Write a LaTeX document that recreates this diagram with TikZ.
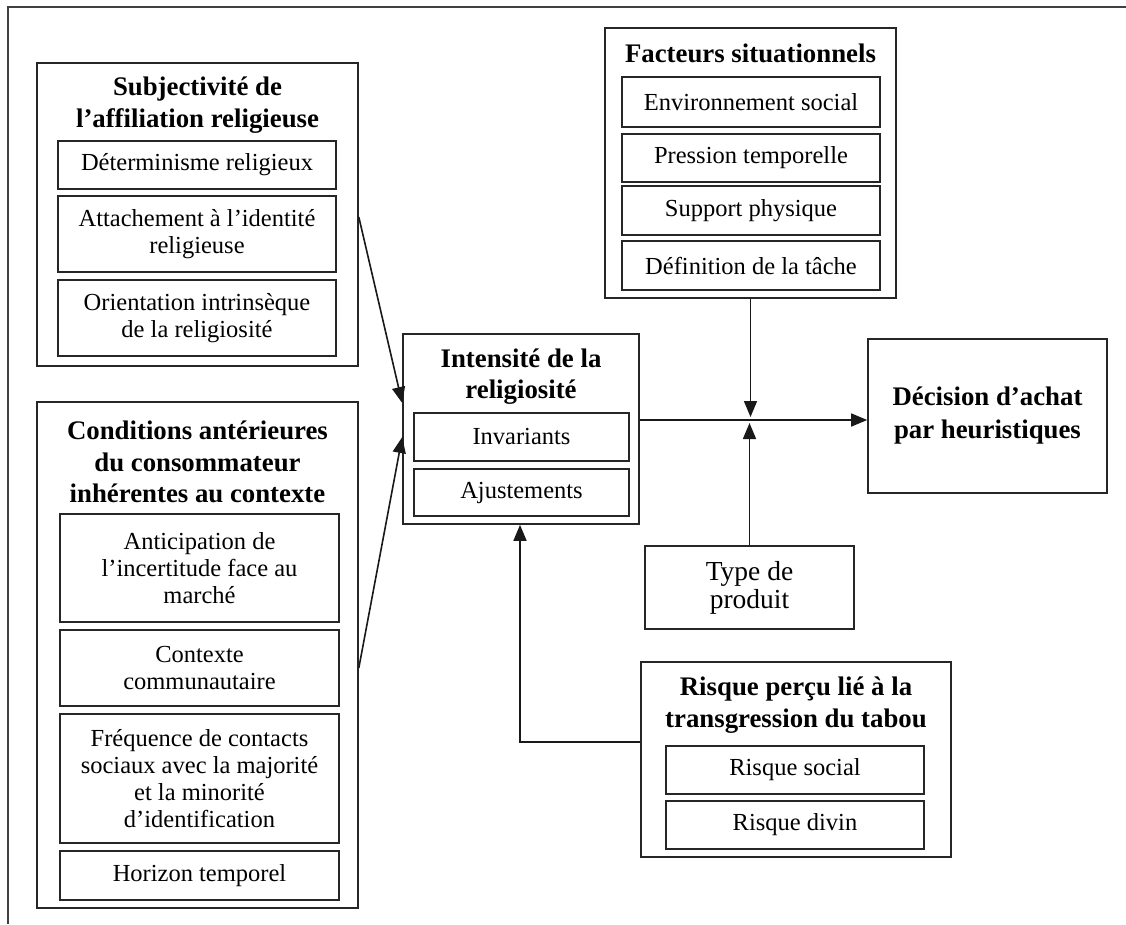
\documentclass[tikz,border=0pt]{standalone}
\usepackage{fontspec}
\setmainfont{Liberation Serif}
\usetikzlibrary{arrows.meta,calc}
\begin{document}
\begin{tikzpicture}[x=1pt,y=-1pt,
  box/.style={draw=black!85, line width=1.6pt, rectangle, inner sep=0pt, align=center, font=\fontsize{24.5}{27}\selectfont},
  ttl/.style={align=center, inner sep=0pt, font=\fontsize{26.8}{31.5}\selectfont\bfseries},
  arr/.style={draw=black!90, line width=1.6pt, -{Triangle[length=16pt,width=13pt]}}]
\useasboundingbox (0,0) rectangle (1126,924);
\draw[black!75, line width=1.6pt] (8,924) -- (8,7) -- (1126,7);

% Subjectivite
\node[box, minimum width=321, minimum height=303] (b1) at (197.5,214.5) {};
\node[ttl] (t1) at (197.5,105) {Subjectivité de\\l’affiliation religieuse};
\node[box, minimum width=278, minimum height=48] (det) at (197,165) {Déterminisme religieux};
\node[box, minimum width=278, minimum height=76] (att) at (197,234) {Attachement à l’identité\\religieuse};
\node[box, minimum width=278, minimum height=76] (ori) at (197,318) {Orientation intrinsèque\\de la religiosité};

% Conditions
\node[box, minimum width=321, minimum height=506] (b2) at (197.5,655) {};
\node[ttl] (t2) at (197.5,462) {Conditions antérieures\\du consommateur\\inhérentes au contexte};
\node[box, minimum width=279, minimum height=108] (ant) at (199.5,568) {Anticipation de\\l’incertitude face au\\marché};
\node[box, minimum width=279, minimum height=76] (com) at (199.5,668) {Contexte\\communautaire};
\node[box, minimum width=279, minimum height=129] (fre) at (199.5,778.5) {Fréquence de contacts\\sociaux avec la majorité\\et la minorité\\d’identification};
\node[box, minimum width=279, minimum height=49] (hor) at (199.5,875.5) {Horizon temporel};

% Intensite
\node[box, minimum width=236, minimum height=190] (cen) at (521,429) {};
\node[ttl] (t3) at (521,376.5) {Intensité de la\\religiosité};
\node[box, minimum width=215, minimum height=48] (inv) at (521.5,437) {Invariants};
\node[box, minimum width=215, minimum height=47] (aju) at (521.5,492.5) {Ajustements};

% Facteurs
\node[box, minimum width=291, minimum height=270] (fac) at (750.5,163) {};
\node[ttl] (t4) at (750.5,53) {Facteurs situationnels};
\node[box, minimum width=258, minimum height=50] (env) at (751,102) {Environnement social};
\node[box, minimum width=258, minimum height=48] (pre) at (751,158) {Pression temporelle};
\node[box, minimum width=258, minimum height=49] (sup) at (751,210.5) {Support physique};
\node[box, minimum width=258, minimum height=49] (def) at (751,265.5) {Définition de la tâche};

% Decision
\node[box, minimum width=239, minimum height=154, font=\fontsize{26.8}{33}\selectfont\bfseries] (dec) at (987.5,416) {Décision d’achat\\par heuristiques};

% Type de produit
\node[box, minimum width=209, minimum height=83, font=\fontsize{27.5}{28}\selectfont] (typ) at (749.5,587.5) {Type de\\produit};

% Risque
\node[box, minimum width=310, minimum height=195] (ris) at (796,759.5) {};
\node[ttl] (t5) at (796,705) {Risque perçu lié à la\\transgression du tabou};
\node[box, minimum width=258, minimum height=48] (soc) at (795,770) {Risque social};
\node[box, minimum width=258, minimum height=48] (div) at (795,825) {Risque divin};

% connectors
\coordinate (j) at (750,420);
\draw[arr] ([yshift=-2.5pt]b1.east) -- ([yshift=26pt]cen.west);
\draw[arr] ([yshift=-13pt]b2.east) -- ([yshift=-8pt]cen.west);
\draw[arr] ([yshift=9pt]cen.east) -- ([yshift=9pt]cen.east -| dec.west);
\draw[arr] (fac.south) -- ([yshift=3pt]j -| fac.south);
\draw[arr] (typ.north) -- ([yshift=-3pt]j -| typ.north);
\draw[arr] ([yshift=17.5pt]ris.west) -| ([xshift=-1pt]cen.south);
\end{tikzpicture}
\end{document}
